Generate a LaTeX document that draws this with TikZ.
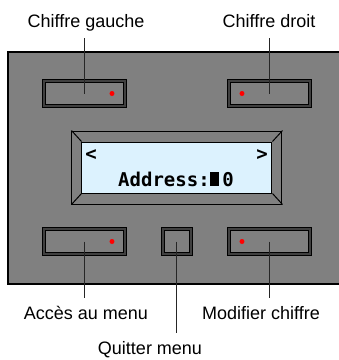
\documentclass[tikz,border=0pt]{standalone}
\usepackage{fontspec}
\setmainfont{Liberation Sans}
\newfontfamily\lcdfont{DejaVu Sans Mono}
\usetikzlibrary{positioning}

\definecolor{gris}{HTML}{808080}
\definecolor{bleuvitre}{HTML}{DCF2FE}

\tikzset{
  bouton/.style={draw=black, line width=0.8pt, double=black!75, double distance=2pt,
    fill=gris, minimum height=25pt, inner sep=0pt},
  voyant/.style={circle, fill=red, inner sep=0pt, minimum size=5pt},
  legende/.style={font=\fontsize{18}{20}\selectfont, text height=15pt, text depth=4pt,
    inner sep=6pt, anchor=base},
  trait/.style={line width=1pt, draw=black!85},
  lcd/.style={font=\lcdfont\bfseries\fontsize{19}{20}\selectfont, inner sep=0pt}
}

\begin{document}
\begin{tikzpicture}[x=1pt, y=-1pt]
  \useasboundingbox (0,0) rectangle (339,360);
  \filldraw[fill=gris, line width=1.2pt] (341,52) -| (8,284) -- (341,284);

  \node[bouton, minimum width=81pt] (gauche) at (84.5,93.5) {};
  \node[bouton, minimum width=81pt] (droit) at (269.5,93.5) {};
  \node[bouton, minimum width=81pt] (acces) at (84.5,241.5) {};
  \node[bouton, minimum width=28pt] (quitter) at (177,241.5) {};
  \node[bouton, minimum width=81pt] (modifier) at (269.5,241.5) {};

  \node[voyant] (vg) at ([xshift=27.5pt]gauche.center) {};
  \node[voyant] (vd) at ([xshift=-27.5pt]droit.center) {};
  \node[voyant] (va) at ([xshift=27.5pt]acces.center) {};
  \node[voyant] (vm) at ([xshift=-27.5pt]modifier.center) {};

  % ecran LCD
  \node[draw, line width=1pt, fill=gris, minimum width=210pt, minimum height=73pt] (ecran) at (177,167.5) {};
  \node[draw, line width=1pt, fill=bleuvitre, minimum width=190pt, minimum height=51pt] (vitre) at (177,167.5) {};
  \foreach \c in {north west, north east, south west, south east}
    \draw[line width=1pt] (ecran.\c) -- (vitre.\c);

  \node[lcd] (fg) at (91,155) {<};
  \node[lcd] (fd) at (262,155) {>};
  \node[lcd] (adresse) at (176,179) {Address:\rule[-0.02em]{0.5em}{0.75em}\,0};

  \node[legende] (lg) at (86,27.5) {Chiffre gauche};
  \node[legende] (ld) at (269,27.5) {Chiffre droit};
  \node[legende] (la) at (86,319) {Accès au menu};
  \node[legende] (lm) at (261,319) {Modifier chiffre};
  \node[legende] (lq) at (150,354) {Quitter menu};

  \draw[trait] (gauche.center) -- (gauche |- lg.south);
  \draw[trait] (droit.center) -- (droit |- ld.south);
  \draw[trait] (acces.center) -- (acces |- la.north);
  \draw[trait] (quitter.center) -- (quitter |- lq.north);
  \draw[trait] (modifier.center) -- (modifier |- lm.north);
\end{tikzpicture}
\end{document}
